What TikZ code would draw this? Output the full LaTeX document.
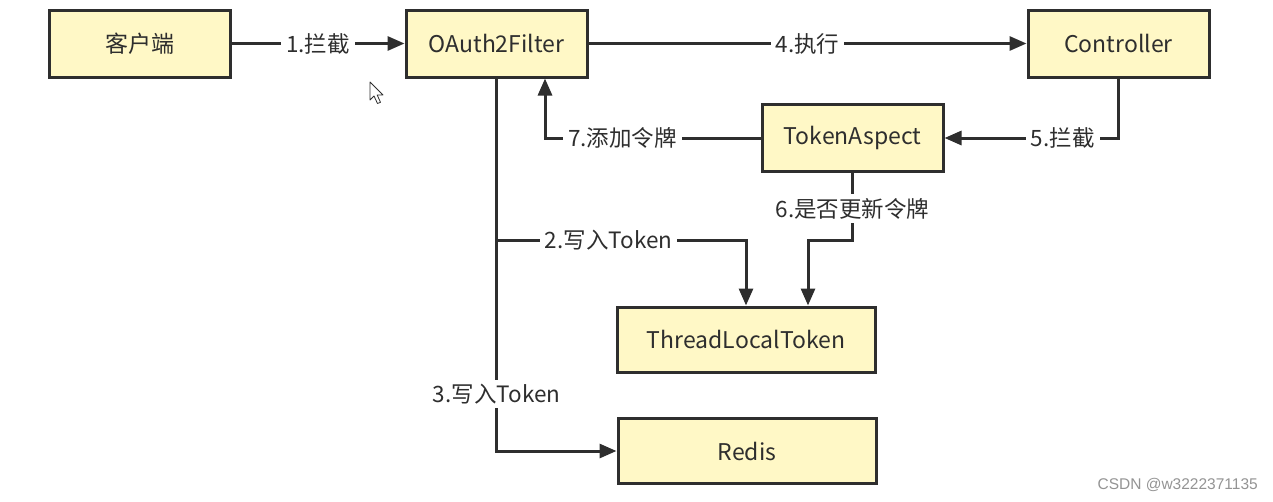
\documentclass[tikz,border=0pt]{standalone}
\usepackage{fontspec}
\setmainfont{Noto Sans CJK SC}
\newfontfamily\wmfont{Liberation Sans}
\usetikzlibrary{arrows.meta}
\definecolor{boxfill}{HTML}{FFF8C6}
\definecolor{ink}{HTML}{2E2E2E}
\begin{document}
\begin{tikzpicture}[x=1pt,y=-1pt,
  box/.style={draw=ink,line width=3pt,fill=boxfill,minimum width=181pt,minimum height=67pt,inner sep=0pt,font=\fontsize{23pt}{26pt}\selectfont,text=ink},
  wide/.style={minimum width=258pt,minimum height=65pt},
  arr/.style={draw=ink,line width=3pt,-{Triangle[length=17pt,width=14pt]}},
  lbl/.style={fill=white,inner xsep=5pt,inner ysep=4pt,font=\fontsize{22.5pt}{26pt}\selectfont,text=ink}]
\useasboundingbox (0,0) rectangle (1273,501);
\fill[white] (0,0) rectangle (1273,501);

\node[box] (kh) at (139.5,43.5) {客户端};
\node[box] (oa) at (496.5,43.5) {OAuth2Filter};
\node[box] (ct) at (1118.5,43.5) {Controller};
\node[box] (ta) at (852.5,138) {TokenAspect};
\node[box,wide] (tl) at (746,339.5) {ThreadLocalToken};
\node[box,wide] (rd) at (747,451) {Redis};

\draw[arr] (kh.east) -- node[lbl]{1.拦截} (oa.west);
\draw[arr] (oa.east) -- node[lbl]{4.执行} (ct.west);
\draw[arr] (ct.south) |- node[lbl,pos=0.66]{5.拦截} (ta.east);
\draw[arr] (ta.west) -| node[lbl,pos=0.32]{7.添加令牌} ([xshift=48.5pt]oa.south);
\draw[arr] (oa.south) |- node[lbl,pos=0.424]{3.写入Token} (rd.west);
\coordinate (b2) at (497,240);
\draw[arr] (b2) -| node[lbl,pos=0.224]{2.写入Token} (tl.north);
\draw[arr] (ta.south) -- node[lbl,pos=0.53]{6.是否更新令牌} ([yshift=-67pt]ta.south) -| ([xshift=62pt]tl.north);

% mouse cursor
\draw[ink,line width=0.8pt,fill=white,line join=round]
  (370,82) -- (370,100) -- (374,96) -- (377.5,103.5) -- (380.5,102.3) -- (377.2,95) -- (383,95) -- cycle;

\node[anchor=east,text=black!42,font=\wmfont\fontsize{15.5pt}{18pt}\selectfont,inner sep=0pt] (wm) at (1258,485) {CSDN @w3222371135};
\end{tikzpicture}
\end{document}
